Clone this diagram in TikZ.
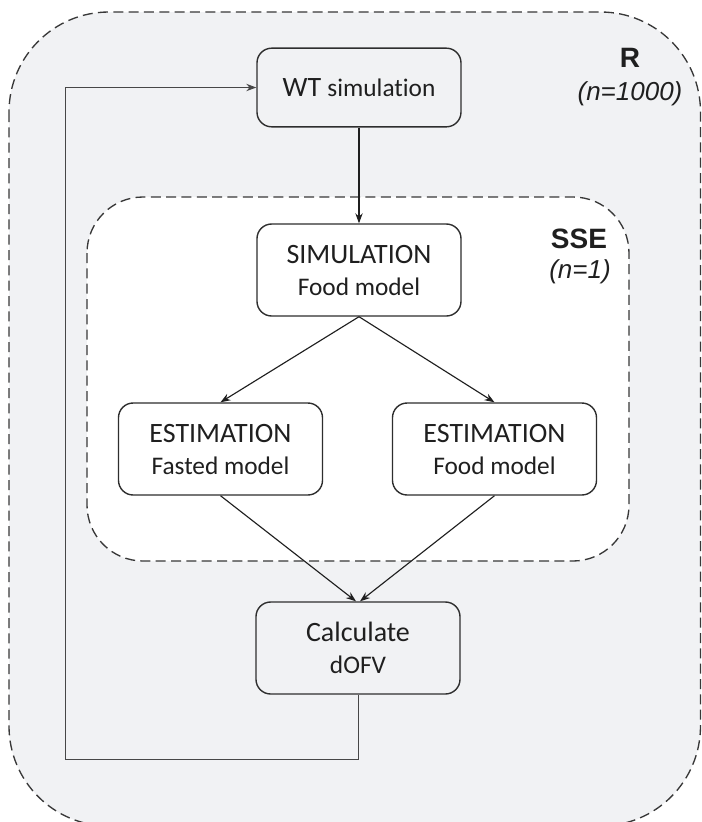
\documentclass[tikz,border=0pt]{standalone}
\usepackage{fontspec}
\setmainfont{Carlito}[Ligatures=NoCommon]
\newfontfamily\labelfont{Liberation Sans}
\usetikzlibrary{arrows.meta, positioning}
\definecolor{bggray}{HTML}{F1F2F4}
\definecolor{linegray}{HTML}{2E2E2E}
\newcommand{\headfont}{\fontsize{21}{24}\selectfont}
\newcommand{\subfont}{\fontsize{19}{24}\selectfont}

\begin{document}
\begin{tikzpicture}[x=0.75pt, y=-0.75pt,
  stepbox/.style={draw=linegray, line width=1.05pt, rounded corners=11pt, minimum width=153pt,
    minimum height=69pt, align=center, font=\headfont, text=black!88, inner sep=0pt},
  region/.style={draw=black!78, line width=1pt, dash pattern=on 7.5pt off 4pt},
  regionname/.style={anchor=base, font=\labelfont\bfseries\fontsize{21}{24}\selectfont, text=black!88},
  regioncount/.style={anchor=base, font=\labelfont\itshape\fontsize{19.5}{22}\selectfont, text=black!88},
  flow/.style={-{Stealth[length=7.5pt, width=5.5pt]}, line width=0.85pt, draw=black!88}]
  \useasboundingbox (0,0) rectangle (701,822);

  % replicate loop (R) and SSE regions
  \draw[region, fill=bggray, rounded corners=75pt] (9,12) rectangle (700.5,826);
  \draw[region, fill=white, rounded corners=42pt] (87,197) rectangle (629,561);

  \node[regionname] (rname) at (630,67) {R};
  \node[regioncount] (rcount) at (630,100) {(n=1000)};
  \node[regionname] (ssename) at (579,248) {SSE};
  \node[regioncount] (ssecount) at (580,278) {(n=1)};

  % steps
  \node[stepbox, minimum height=59pt] (wt) at (359,87.5) {WT {\subfont simulation}};
  \node[stepbox] (sim) at (359,270) {SIMULATION\\{\subfont Food model}};
  \node[stepbox] (estfast) at (220.5,449) {ESTIMATION\\{\subfont Fasted model}};
  \node[stepbox] (estfood) at (494.5,449) {ESTIMATION\\{\subfont Food model}};
  \node[stepbox] (dofv) at (358,648) {Calculate\\{\subfont dOFV}};

  \draw[flow] (wt) -- (sim);
  \draw[flow] (sim.south) -- (estfast.north);
  \draw[flow] (sim.south) -- (estfood.north);
  \draw[flow] (estfast.south) -- ([xshift=-1.5pt]dofv.north);
  \draw[flow] (estfood.south) -- ([xshift=1.5pt]dofv.north);

  % back to the next replicate
  \coordinate (loopcorner) at (65,759);
  \draw[flow, draw=black!72, line width=0.75pt] (dofv.south) |- (loopcorner) |- (wt.west);
\end{tikzpicture}
\end{document}
